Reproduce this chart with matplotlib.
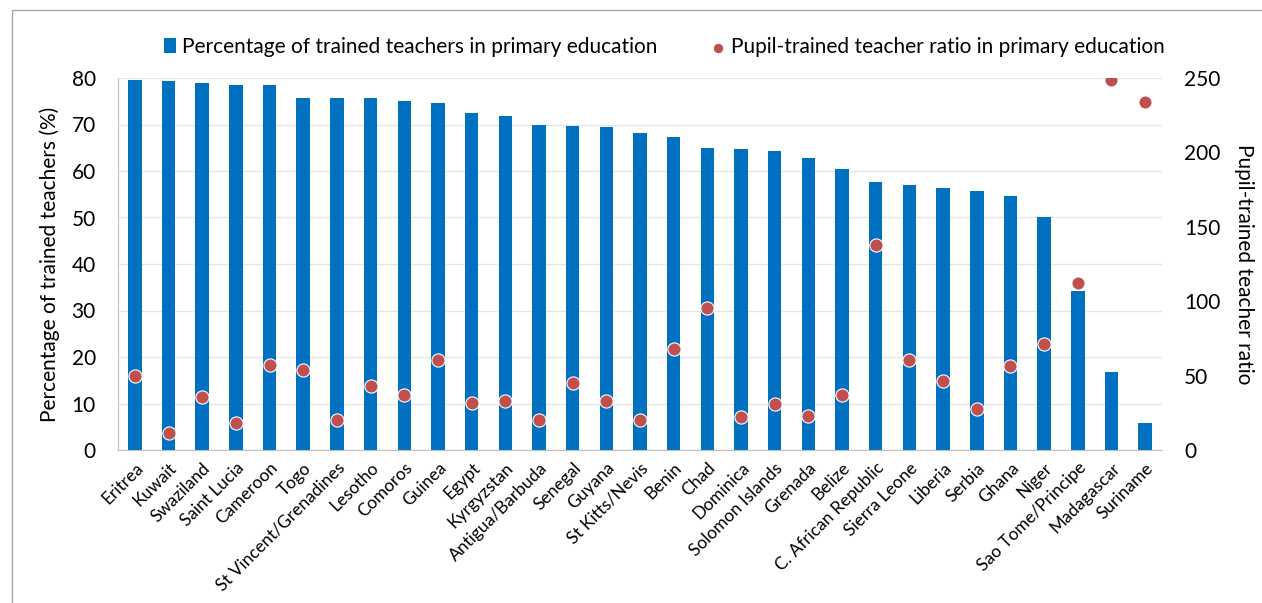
import numpy as np
import matplotlib.pyplot as plt
from matplotlib.patches import Rectangle

countries = ["Eritrea", "Kuwait", "Swaziland", "Saint Lucia", "Cameroon", "Togo",
             "St Vincent/Grenadines", "Lesotho", "Comoros", "Guinea", "Egypt",
             "Kyrgyzstan", "Antigua/Barbuda", "Senegal", "Guyana", "St Kitts/Nevis",
             "Benin", "Chad", "Dominica", "Solomon Islands", "Grenada", "Belize",
             "C. African Republic", "Sierra Leone", "Liberia", "Serbia", "Ghana",
             "Niger", "Sao Tome/Principe", "Madagascar", "Suriname"]
pct_trained = [79.6, 79.4, 78.9, 78.5, 78.5, 75.8, 75.8, 75.6, 75.0, 74.7, 72.5,
               71.8, 69.9, 69.7, 69.5, 68.2, 67.4, 64.9, 64.7, 64.4, 62.7, 60.4,
               57.7, 56.9, 56.3, 55.6, 54.6, 50.0, 34.3, 16.7, 5.7]
ptr = [49.9, 11.2, 35.4, 17.9, 57.1, 54.0, 20.4, 42.8, 37.0, 60.5, 31.8,
       32.9, 19.9, 45.0, 33.2, 19.9, 67.7, 95.2, 22.0, 30.9, 23.1, 37.0,
       137.8, 60.5, 46.6, 27.8, 56.7, 71.0, 112.2, 248.9, 233.9]

plt.rcParams['font.family'] = ['Lato', 'DejaVu Sans']

W, H = 1262, 603
fig = plt.figure(figsize=(W / 100, H / 100), dpi=100)
# plot area in pixels: x 118..1162, y 78..450
ax = fig.add_axes([118 / W, 1 - 450 / H, (1162 - 118) / W, (450 - 78) / H])
ax2 = ax.twinx()

x = np.arange(len(countries))
bars = ax.bar(x, pct_trained, width=0.4, color="#0070C0", zorder=2,
              label="Percentage of trained teachers in primary education")
dots = ax2.scatter(x, ptr, s=90, color="#C0504D", edgecolors="white", linewidths=0.8,
                   zorder=3, label="Pupil-trained teacher ratio in primary education")

ax.set_xlim(-0.5, len(countries) - 0.5)
ax.set_ylim(0, 80)
ax2.set_ylim(0, 250)
ax.set_yticks(np.arange(0, 81, 10))
ax2.set_yticks(np.arange(0, 251, 50))
ax.yaxis.grid(True, color="#E6E6E6", linewidth=1, zorder=0)
ax.set_axisbelow(True)

for a in (ax, ax2):
    for s in ["top", "right", "left"]:
        a.spines[s].set_visible(False)
    a.tick_params(length=0, labelsize=15)
ax.spines["left"].set_visible(True)
ax.spines["left"].set_color("#BFBFBF")
ax.spines["bottom"].set_color("#BFBFBF")
ax2.spines["bottom"].set_visible(False)
ax.tick_params(axis="y", pad=16)
ax2.tick_params(axis="y", pad=16)

ax.set_xticks(x)
ax.set_xticklabels(countries, rotation=45, ha="right", rotation_mode="anchor", fontsize=12.5)
ax.tick_params(axis="x", pad=7)

ax.set_ylabel("Percentage of trained teachers (%)", fontsize=15, labelpad=8)
ax2.set_ylabel("Pupil-trained teacher ratio", fontsize=15, rotation=-90, labelpad=24)

fig.legend(handles=[bars, dots], loc="center", bbox_to_anchor=(664 / W, 1 - 47 / H),
           ncol=2, frameon=False, fontsize=15, handlelength=0.6, handletextpad=0.3,
           columnspacing=2.6, markerscale=0.8)

# light frame around chart (cropped at right and bottom)
fig.patches.append(Rectangle((12 / W, -0.1), 1.2, 1 - 10 / H + 0.1, transform=fig.transFigure,
                             fill=False, edgecolor="#A6A6A6", linewidth=1))

fig.savefig("out.png", dpi=100)
